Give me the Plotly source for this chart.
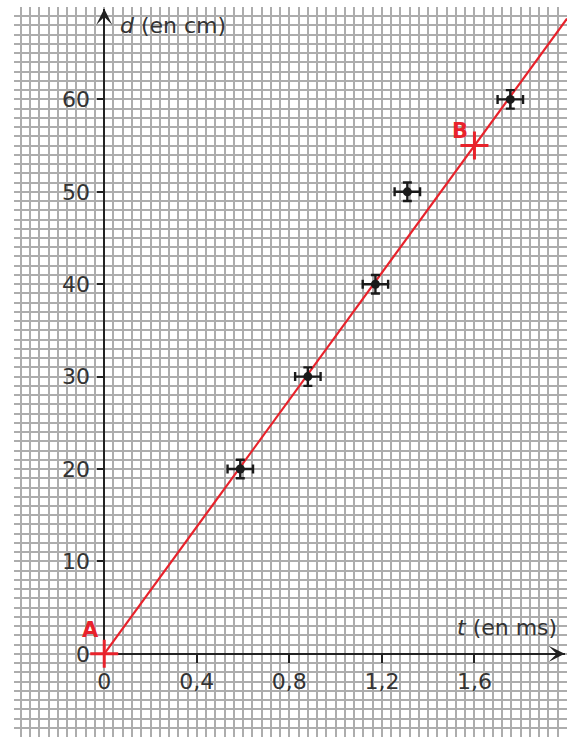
import plotly.graph_objects as go

# ---- data ----
T_MEAS = [0.588, 0.880, 1.172, 1.310, 1.755]   # t (ms)
D_MEAS = [20, 30, 40, 50, 60]                  # d (cm)
T_ERR = [0.055, 0.055, 0.055, 0.055, 0.055]
D_ERR = [1, 1, 1, 1, 1]

LINE_T = [0, 2.0]
LINE_D = [0, 68.75]

POINT_LABELS = ["A", "B"]
POINT_T = [0, 1.6]
POINT_D = [0, 55]

X_TICKS = [0, 0.4, 0.8, 1.2, 1.6]
X_TICK_TEXT = ["0", "0,4", "0,8", "1,2", "1,6"]
Y_TICKS = [0, 10, 20, 30, 40, 50, 60]
Y_TICK_TEXT = ["0", "10", "20", "30", "40", "50", "60"]

X_TITLE = "<i>t</i> (en ms)"
Y_TITLE = "<i>d</i> (en cm)"

# ---- layout constants ----
X_MIN, X_MAX = -0.39, 2.0
Y_MIN, Y_MAX = -9, 70
X_AXIS_END = 1.99
Y_AXIS_END = 69.8

FONT = "DejaVu Sans"
RED = "#e8222b"
INK = "#222222"
TXT = "#333333"
GRID = "#adadad"

def fx(v):
    return (v - X_MIN) / (X_MAX - X_MIN)

def fy(v):
    return (v - Y_MIN) / (Y_MAX - Y_MIN)

fig = go.Figure()

# model line
fig.add_trace(go.Scatter(x=LINE_T, y=LINE_D, mode="lines",
                         line=dict(color=RED, width=2.2), hoverinfo="skip",
                         showlegend=False, cliponaxis=False))

# measured points with error bars
fig.add_trace(go.Scatter(x=T_MEAS, y=D_MEAS, mode="markers",
                         marker=dict(color="#1a1a1a", size=9),
                         error_x=dict(type="data", array=T_ERR, color="#1a1a1a",
                                      thickness=2.4, width=4.5),
                         error_y=dict(type="data", array=D_ERR, color="#1a1a1a",
                                      thickness=2.4, width=4.5),
                         showlegend=False))

# points A and B (drawn on the labelled axes, above the axis lines)
fig.add_trace(go.Scatter(x=POINT_T, y=POINT_D, mode="markers",
                         xaxis="x2", yaxis="y2",
                         marker=dict(symbol="cross-thin", size=20, color=RED,
                                     line=dict(color=RED, width=3)),
                         showlegend=False, cliponaxis=False))

annotations = []
shifts = [(-14, 24), (-14, 15)]
for lab, t, d, (sx, sy) in zip(POINT_LABELS, POINT_T, POINT_D, shifts):
    annotations.append(dict(x=t, y=d, xref="x", yref="y", text="<b>%s</b>" % lab,
                            showarrow=False, xshift=sx, yshift=sy,
                            font=dict(family=FONT, size=21, color=RED)))

# axis arrows
annotations.append(dict(x=X_AXIS_END, y=0, xref="x", yref="y", ax=-14, ay=0,
                        text="", showarrow=True, arrowhead=3, arrowsize=1.8,
                        arrowwidth=1.5, arrowcolor=INK))
annotations.append(dict(x=0, y=Y_AXIS_END, xref="x", yref="y", ax=0, ay=14,
                        text="", showarrow=True, arrowhead=3, arrowsize=1.8,
                        arrowwidth=1.5, arrowcolor=INK))

# axis titles
annotations.append(dict(x=0.06, y=68.0, xref="x", yref="y", text=Y_TITLE,
                        showarrow=False, xanchor="left", yanchor="middle",
                        font=dict(family=FONT, size=22, color=TXT)))
annotations.append(dict(x=1.965, y=2.8, xref="x", yref="y", text=X_TITLE,
                        showarrow=False, xanchor="right", yanchor="middle",
                        font=dict(family=FONT, size=22, color=TXT)))

grid_axis = dict(showgrid=True, gridcolor=GRID, gridwidth=1.7, zeroline=False,
                 showline=False, showticklabels=False, ticks="", fixedrange=True,
                 automargin=False)

fig.update_layout(
    width=568, height=740,
    margin=dict(l=14, r=1, t=7, b=3, autoexpand=False),
    paper_bgcolor="white", plot_bgcolor="rgba(0,0,0,0)",
    font=dict(family=FONT, color=TXT),
    xaxis=dict(range=[X_MIN, X_MAX], domain=[0, 1], tick0=0, dtick=0.04, **grid_axis),
    yaxis=dict(range=[Y_MIN, Y_MAX], domain=[0, 1], tick0=0, dtick=1, **grid_axis),
    xaxis2=dict(range=[0, X_AXIS_END], domain=[fx(0), fx(X_AXIS_END)],
                anchor="free", position=fy(0), side="bottom", layer="below traces",
                showline=True, linecolor=INK, linewidth=1.5,
                ticks="outside", ticklen=8, tickwidth=1.5, tickcolor=INK,
                ticklabelstandoff=0, automargin=False,
                tickvals=X_TICKS, ticktext=X_TICK_TEXT,
                tickfont=dict(family=FONT, size=22, color=TXT),
                showgrid=False, zeroline=False, fixedrange=True),
    yaxis2=dict(range=[0, Y_AXIS_END], domain=[fy(0), fy(Y_AXIS_END)],
                anchor="free", position=fx(0), side="left", layer="below traces",
                showline=True, linecolor=INK, linewidth=1.5,
                ticks="outside", ticklen=6, tickwidth=1.5, tickcolor=INK,
                ticklabelstandoff=3, automargin=False,
                tickvals=Y_TICKS, ticktext=Y_TICK_TEXT,
                tickfont=dict(family=FONT, size=22, color=TXT),
                showgrid=False, zeroline=False, fixedrange=True),
    annotations=annotations,
)

fig.write_html("out.html",
               config={"displayModeBar": False},
               post_script="document.body.style.margin='0';"
                           "document.body.style.overflow='hidden';")
